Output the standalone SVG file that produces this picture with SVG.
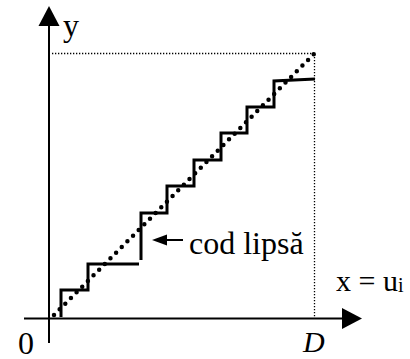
<svg xmlns="http://www.w3.org/2000/svg" width="410" height="359" viewBox="0 0 410 359">
<style>
.axis{stroke:#000;stroke-width:2;fill:none}
.fine{stroke:#000;stroke-width:1.3;stroke-dasharray:1.3 1.7;fill:none}
.diag{stroke:#000;stroke-width:4.5;stroke-dasharray:0 8;stroke-linecap:round;fill:none}
.stair{stroke:#000;stroke-width:3;fill:none}
.lbl{font-family:"Liberation Serif","Times New Roman",serif;fill:#000}
</style>
<rect width="410" height="359" fill="#fff"/>
<g id="guides">
<path class="fine" d="M52,53.5 H315 M314.5,54 V318"/>
</g>
<g id="ideal">
<path class="diag" d="M54,315 L314,54"/>
</g>
<g id="staircase">
<path class="stair" d="M61,317 V290 H88 V264 H139 M141,260 V213 H167 V186 H194 V160 H221 V133 H247 V107 H274 V81 L315,79"/>
</g>
<g id="axes">
<path class="axis" d="M49,343 V24 M24,318.5 H344"/>
<polygon points="49,6 38.5,26 59.5,26" fill="#000"/>
<polygon points="362,318.5 342,308 342,329" fill="#000"/>
</g>
<g id="connectors">
<path class="axis" d="M166,240 H183"/>
<polygon points="152,240 167,234.5 167,245.5" fill="#000"/>
</g>
<g id="labels">
<text class="lbl" x="63" y="36" font-size="32">y</text>
<text class="lbl" x="189" y="254" font-size="32">cod lipsă</text>
<text class="lbl" x="336" y="291" font-size="30">x = u<tspan font-size="20" dy="1">i</tspan></text>
<text class="lbl" x="18" y="354" font-size="32">0</text>
<text class="lbl" x="303" y="352" font-size="30" font-style="italic">D</text>
</g>
</svg>
